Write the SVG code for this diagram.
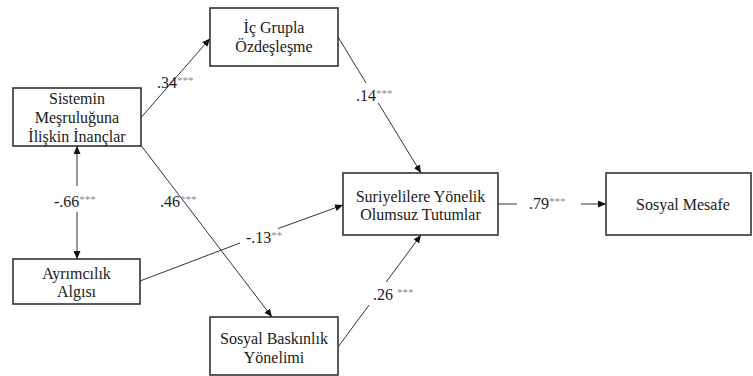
<svg xmlns="http://www.w3.org/2000/svg" width="753" height="376" viewBox="0 0 753 376">
<defs>
<marker id="ah" viewBox="0 0 8 7" refX="8" refY="3.5" markerWidth="8" markerHeight="7" markerUnits="userSpaceOnUse" orient="auto-start-reverse">
<path d="M0,0 L8,3.5 L0,7 z" fill="#111"/>
</marker>
<style>
.box{fill:#fff;stroke:#333;stroke-width:1.6}
.t{font-family:'Liberation Serif','Times New Roman',serif;font-size:16px;fill:#1a1a1a;text-anchor:middle}
.l{font-family:'Liberation Serif','Times New Roman',serif;font-size:16px;fill:#1a1a1a}
.s{font-size:11px;fill:#8a8a8a}
.c{fill:none;stroke:#333;stroke-width:1;marker-end:url(#ah)}
.g{fill:none;stroke:#999;stroke-width:2;marker-start:url(#ah);marker-end:url(#ah)}
</style>
</defs>
<rect width="753" height="376" fill="#fff"/>
<g id="connectors">
<path class="c" d="M141.5,117 L210,38.5"/>
<path class="c" d="M338,37 L366.1,83 M378.3,103 L421,173"/>
<path class="c" d="M141.5,146 L272,317"/>
<path class="c" d="M140,281 L240,243 M278,228.6 L343,205"/>
<path class="c" d="M338,347 L369.1,305 M386.2,282 L421,235"/>
<path class="c" d="M498,204 L517,204 M581,204 L606,204"/>
<path class="g" d="M77,146 L77,186 M77,212 L77,259"/>
</g>
<g id="labels">
<text class="l" x="157" y="88">.34<tspan class="s" dy="-4">***</tspan></text>
<text class="l" x="356" y="101">.14<tspan class="s" dy="-4">***</tspan></text>
<text class="l" x="160" y="207">.46<tspan class="s" dy="-4">***</tspan></text>
<text class="l" x="54" y="207">-.66<tspan class="s" dy="-4">***</tspan></text>
<text class="l" x="246" y="243">-.13<tspan class="s" dy="-4">**</tspan></text>
<text class="l" x="529" y="209">.79<tspan class="s" dy="-4">***</tspan></text>
<text class="l" x="373" y="300">.26 <tspan class="s" dy="-4">***</tspan></text>
</g>
<g id="node-sistemin">
<rect class="box" x="13" y="88" width="128" height="58"/>
<text class="t" x="77" y="104">Sistemin</text>
<text class="t" x="77" y="123">Meşruluğuna</text>
<text class="t" x="77" y="142">İlişkin İnançlar</text>
</g>
<g id="node-icgrupla">
<rect class="box" x="210" y="8" width="128" height="58"/>
<text class="t" x="274" y="33">İç Grupla</text>
<text class="t" x="274" y="52">Özdeşleşme</text>
</g>
<g id="node-ayrimcilik">
<rect class="box" x="13" y="259" width="127" height="45"/>
<text class="t" x="76.5" y="279">Ayrımcılık</text>
<text class="t" x="76.5" y="297">Algısı</text>
</g>
<g id="node-sosyalbaskinlik">
<rect class="box" x="210" y="317" width="128" height="58"/>
<text class="t" x="274" y="344">Sosyal Baskınlık</text>
<text class="t" x="274" y="363">Yönelimi</text>
</g>
<g id="node-suriyeliler">
<rect class="box" x="343" y="173" width="155" height="62"/>
<text class="t" x="420.5" y="202">Suriyelilere Yönelik</text>
<text class="t" x="420.5" y="220">Olumsuz Tutumlar</text>
</g>
<g id="node-sosyalmesafe">
<rect class="box" x="606" y="173" width="145" height="62"/>
<text class="t" x="683" y="210">Sosyal Mesafe</text>
</g>
</svg>
